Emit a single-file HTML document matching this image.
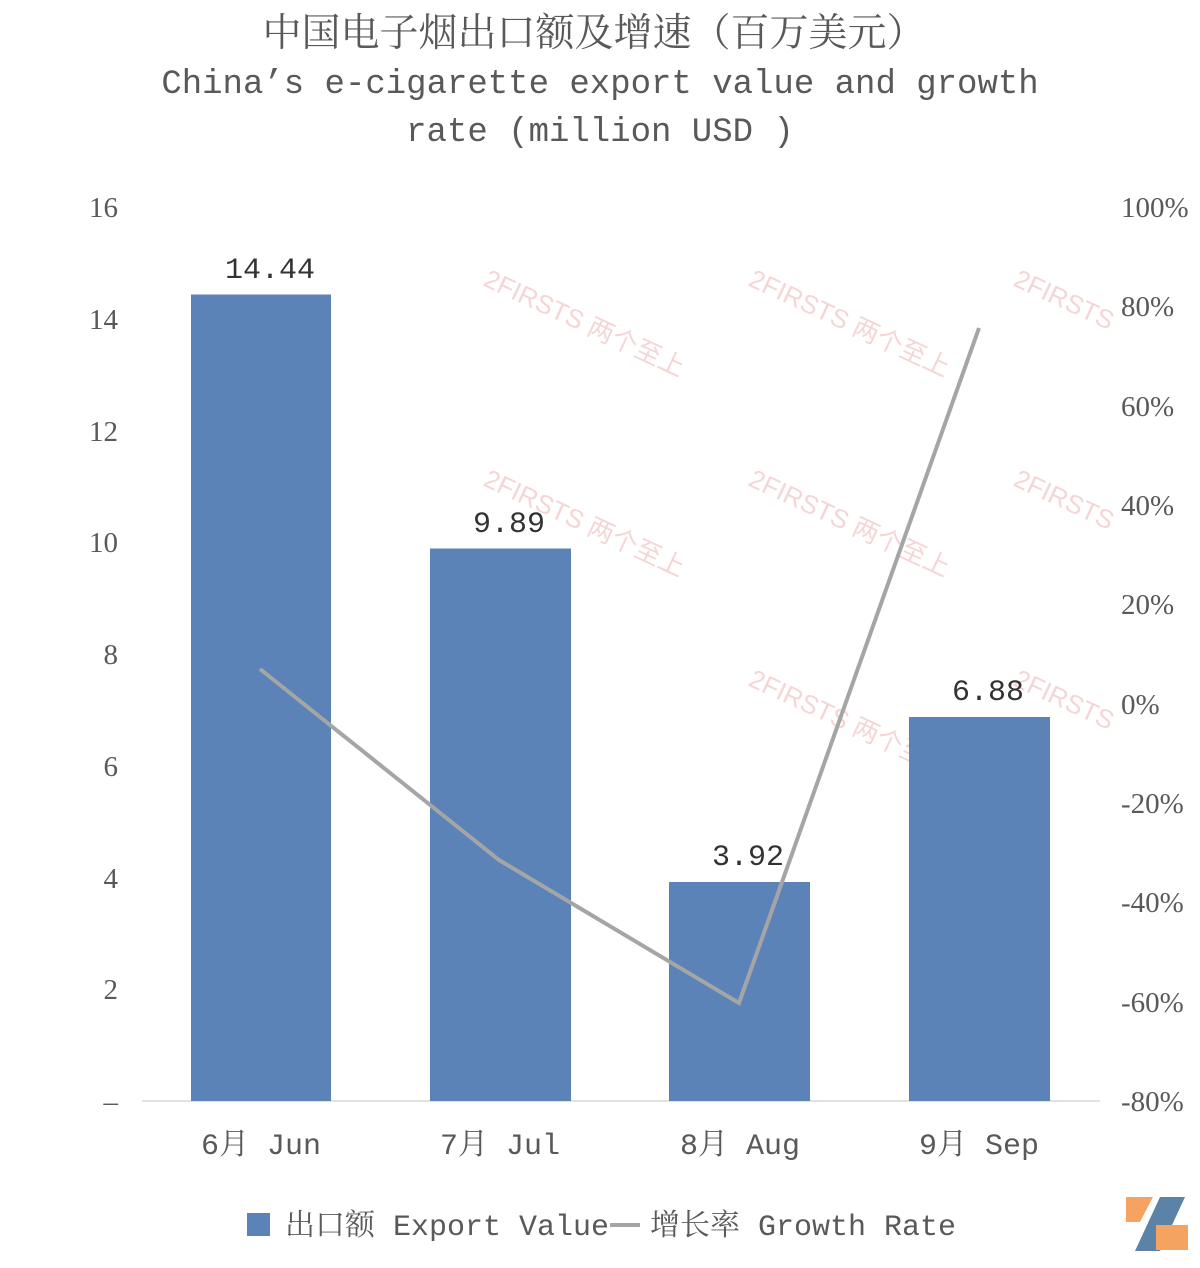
<!DOCTYPE html>
<html><head><meta charset="utf-8"><style>
body{margin:0;background:#fff;}
.t{fill:#595959;}
.wm text{fill:#f3cccc;}
</style></head><body>
<svg width="1200" height="1263" xmlns="http://www.w3.org/2000/svg">
<g class="wm" font-family="'Liberation Sans','Noto Sans CJK SC',sans-serif" font-size="26" opacity="0.8">
<text transform="translate(482,285) rotate(25)">2FIRSTS 两个至上</text>
<text transform="translate(747,285) rotate(25)">2FIRSTS 两个至上</text>
<text transform="translate(1012,285) rotate(25)">2FIRSTS</text>
<text transform="translate(482,485) rotate(25)">2FIRSTS 两个至上</text>
<text transform="translate(747,485) rotate(25)">2FIRSTS 两个至上</text>
<text transform="translate(1012,485) rotate(25)">2FIRSTS</text>
<text transform="translate(747,685) rotate(25)">2FIRSTS 两个至上</text>
<text transform="translate(1012,685) rotate(25)">2FIRSTS</text>
</g>
<g class="t" font-family="'Liberation Mono','Noto Serif CJK SC',monospace" text-anchor="middle">
<text class="t" x="594" y="46" font-size="39" font-family="'Noto Serif CJK SC',serif">中国电子烟出口额及增速（百万美元）</text>
<text class="t" x="600" y="93" font-size="34">China’s e-cigarette export value and growth</text>
<text class="t" x="600" y="141" font-size="34">rate (million USD )</text>
</g>
<line x1="142" y1="1101" x2="1100" y2="1101" stroke="#d9d9d9" stroke-width="1.5"/>
<g fill="#5b83b8">
<rect x="191" y="294.5" width="140" height="806.5"/>
<rect x="430" y="548.5" width="141" height="552.5"/>
<rect x="669" y="882" width="141" height="219"/>
<rect x="909" y="717" width="141" height="384"/>
</g>
<polyline points="260,669 499,860 739,1003 979,328" fill="none" stroke="#a5a5a5" stroke-width="4"/>
<g class="t" font-family="'Liberation Serif',serif" font-size="29" text-anchor="end">
<text class="t" x="118" y="217">16</text><text class="t" x="118" y="329">14</text><text class="t" x="118" y="441">12</text>
<text class="t" x="118" y="552">10</text><text class="t" x="118" y="664">8</text><text class="t" x="118" y="776">6</text>
<text class="t" x="118" y="888">4</text><text class="t" x="118" y="999">2</text><text class="t" x="118" y="1111">–</text>
</g>
<g font-family="'Liberation Serif',serif" font-size="29" text-anchor="start">
<text class="t" x="1121" y="217">100%</text><text class="t" x="1121" y="316">80%</text><text class="t" x="1121" y="416">60%</text>
<text class="t" x="1121" y="515">40%</text><text class="t" x="1121" y="614">20%</text><text class="t" x="1121" y="714">0%</text>
<text class="t" x="1121" y="813">-20%</text><text class="t" x="1121" y="912">-40%</text><text class="t" x="1121" y="1012">-60%</text>
<text class="t" x="1121" y="1111">-80%</text>
</g>
<g font-family="'Liberation Mono',monospace" font-size="30" text-anchor="middle" fill="#333">
<text x="270" y="278">14.44</text><text x="509" y="532">9.89</text>
<text x="748" y="865">3.92</text><text x="988" y="700">6.88</text>
</g>
<g font-family="'Liberation Mono','Noto Serif CJK SC',monospace" font-size="30" text-anchor="middle">
<text class="t" x="261" y="1154">6月 Jun</text><text class="t" x="500" y="1154">7月 Jul</text>
<text class="t" x="740" y="1154">8月 Aug</text><text class="t" x="979" y="1154">9月 Sep</text>
</g>
<rect x="247" y="1213" width="23" height="23" fill="#5b83b8"/>
<line x1="610" y1="1225" x2="640" y2="1225" stroke="#a5a5a5" stroke-width="4"/>
<g font-family="'Liberation Mono','Noto Serif CJK SC',monospace" font-size="30">
<text class="t" x="285" y="1235">出口额 Export Value</text>
<text class="t" x="650" y="1235">增长率 Growth Rate</text>
</g>
<polygon points="1126,1197 1153,1197 1140,1222 1126,1222" fill="#f4a460"/>
<polygon points="1160,1197 1185,1197 1160,1251 1135,1251" fill="#5b83a8"/>
<rect x="1156" y="1225" width="32" height="25" fill="#f4a460"/>
</svg>
</body></html>
